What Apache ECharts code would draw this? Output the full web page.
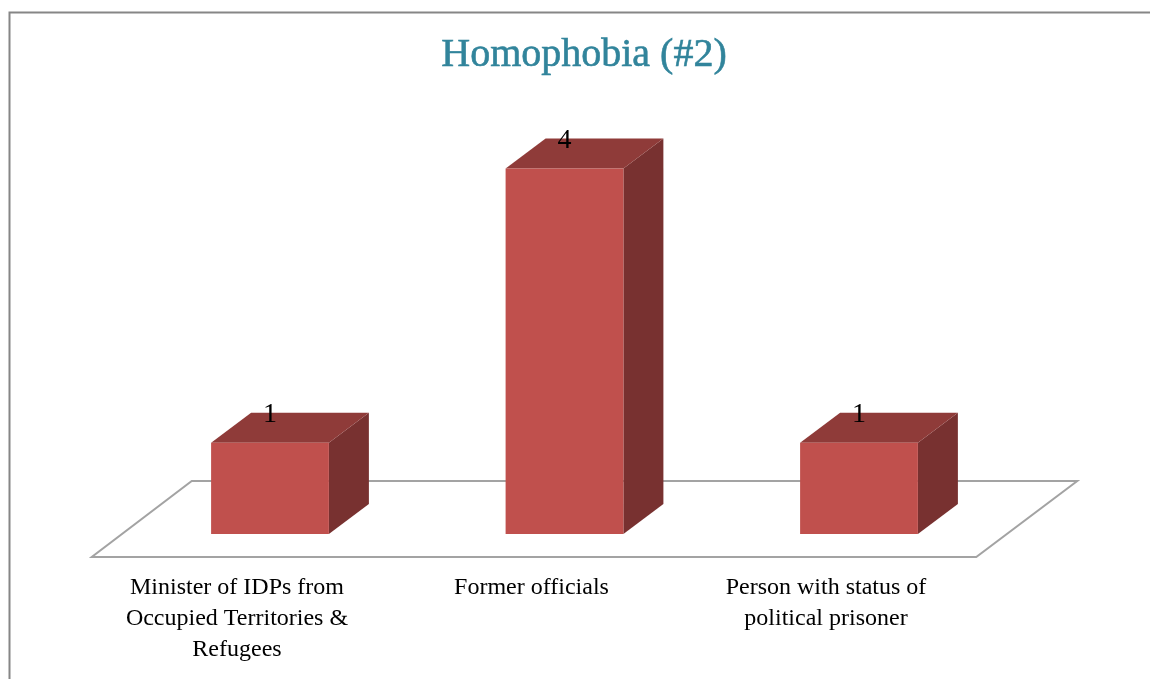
<!DOCTYPE html>
<html>
<head>
<meta charset="utf-8">
<title>Homophobia (#2)</title>
<style>
  html, body { margin: 0; padding: 0; background: #fff; }
  #main { width: 1150px; height: 679px; }
</style>
<script src="https://cdn.jsdelivr.net/npm/echarts@6/dist/echarts.min.js"></script>
</head>
<body>
<div id="main"></div>
<script>
  const titleText = 'Homophobia (#2)'
  const categories = [
    'Minister of IDPs from\nOccupied Territories &\nRefugees',
    'Former officials',
    'Person with status of\npolitical prisoner'
  ]
  const values = [1, 4, 1]

  const FONT = '"Liberation Serif", serif'
  // 3d look of the bars: how far the back face sits from the front one
  const DEPTH_X = 40
  const DEPTH_Y = 30

  const chart = echarts.init(document.getElementById('main'))

  function renderFloor(params) {
    const g = params.coordSys
    const bottom = g.y + g.height
    return {
      type: 'polygon',
      shape: {
        points: [
          [g.x - 31, bottom + 23],
          [g.x + g.width - 30, bottom + 23],
          [g.x + g.width + 71, bottom - 53],
          [g.x + 69, bottom - 53]
        ]
      },
      style: { fill: '#fff', stroke: '#a3a3a3', lineWidth: 2 }
    }
  }

  function renderBar(params, api) {
    const top = api.coord([api.value(0), api.value(1)])
    const base = api.coord([api.value(0), 0])
    const w = api.size([1, 0])[0] * 0.4
    const l = top[0] - w / 2
    const r = top[0] + w / 2
    return {
      type: 'group',
      children: [
        {
          type: 'polygon',
          shape: { points: [[r, top[1]], [r + DEPTH_X, top[1] - DEPTH_Y], [r + DEPTH_X, base[1] - DEPTH_Y], [r, base[1]]] },
          style: { fill: '#783130' }
        },
        {
          type: 'polygon',
          shape: { points: [[l, top[1]], [l + DEPTH_X, top[1] - DEPTH_Y], [r + DEPTH_X, top[1] - DEPTH_Y], [r, top[1]]] },
          style: { fill: '#8f3b39' }
        },
        {
          type: 'rect',
          shape: { x: l, y: top[1], width: w, height: base[1] - top[1] },
          style: { fill: '#c0504d' }
        },
        {
          type: 'text',
          style: {
            text: String(api.value(1)),
            x: top[0],
            y: top[1] - DEPTH_Y + 2,
            align: 'center',
            verticalAlign: 'middle',
            fill: '#000',
            font: '28px ' + FONT
          }
        }
      ]
    }
  }

  chart.setOption({
    animation: false,
    backgroundColor: '#fff',
    title: {
      text: titleText,
      left: 579,
      top: 30,
      textAlign: 'center',
      textStyle: {
        color: '#31849b',
        fontFamily: FONT,
        fontSize: 40,
        fontWeight: 'normal',
        textBorderColor: '#31849b',
        textBorderWidth: 0.6
      }
    },
    grid: { left: 122.75, top: 168.5, width: 883.5, height: 365.5 },
    xAxis: {
      type: 'category',
      data: categories,
      axisLine: { show: false },
      axisTick: { show: false },
      axisLabel: {
        interval: 0,
        margin: 38,
        padding: [0, 66, 0, 0],
        color: '#000',
        fontFamily: FONT,
        fontSize: 24,
        lineHeight: 31
      }
    },
    yAxis: { type: 'value', min: 0, max: 4, show: false },
    series: [
      {
        type: 'custom',
        data: [[0, 0]],
        encode: { x: 0, y: 1 },
        z: 1,
        silent: true,
        renderItem: renderFloor
      },
      {
        type: 'custom',
        data: values.map((v, i) => [i, v]),
        encode: { x: 0, y: 1 },
        z: 2,
        renderItem: renderBar
      }
    ],
    graphic: [
      {
        type: 'polyline',
        shape: { points: [[9.5, 679], [9.5, 12.5], [1150, 12.5]] },
        style: { fill: 'none', stroke: '#868686', lineWidth: 2 },
        z: 10
      }
    ]
  })
</script>
</body>
</html>
